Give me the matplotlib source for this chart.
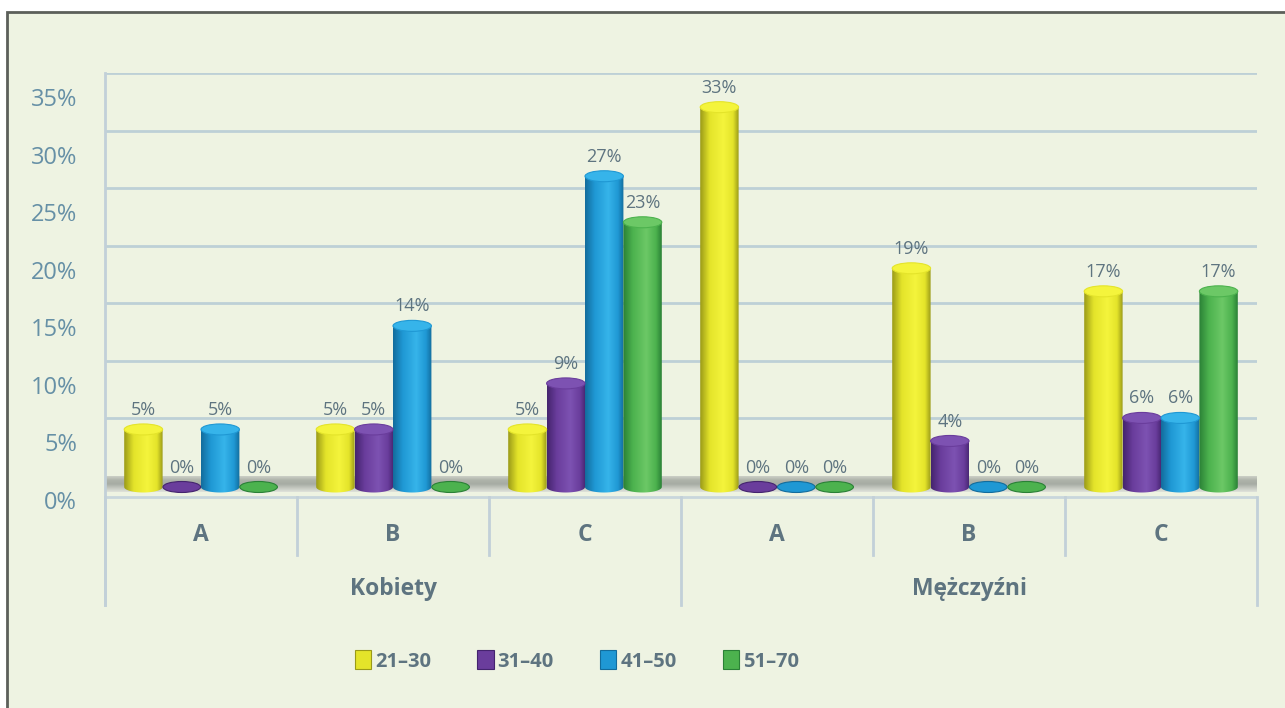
import numpy as np
import matplotlib
matplotlib.use("Agg")
import matplotlib.pyplot as plt
from matplotlib.patches import Ellipse, Rectangle, Patch
from matplotlib.path import Path
from matplotlib.patches import PathPatch
from matplotlib.colors import LinearSegmentedColormap
from matplotlib.transforms import ScaledTranslation

plt.rcParams['font.family'] = ['Open Sans', 'DejaVu Sans']

# data
groups = ["Kobiety", "Mężczyźni"]
categories = ["A", "B", "C", "A", "B", "C"]
age_groups = ["21–30", "31–40", "41–50", "51–70"]
share_21_30 = [5, 5, 5, 33, 19, 17]
share_31_40 = [0, 5, 9, 0, 4, 6]
share_41_50 = [5, 14, 27, 0, 0, 6]
share_51_70 = [0, 0, 23, 0, 0, 17]
series = [share_21_30, share_31_40, share_41_50, share_51_70]

# dark, base, light shades for the cylinders
shades = [
    ("#9a9a18", "#e4e42a", "#f4f43c"),
    ("#44246e", "#6a3d9c", "#7d52b2"),
    ("#136c9c", "#1f98d4", "#36b4ea"),
    ("#2a8036", "#4cb24e", "#6cc866"),
]

BG = "#eef3e2"
GRID = "#bdd0d6"
TXT = "#5e7480"
TICK_TXT = "#6690a6"

W, H, DPI = 1285, 708, 100
fig = plt.figure(figsize=(W / DPI, H / DPI), dpi=DPI, facecolor="white")

# framed panel
fig.patches.append(Rectangle((7 / W, -0.01), 1.0, 1 - 12 / H + 0.01,
                             transform=fig.transFigure, facecolor=BG,
                             edgecolor="#5c5f5a", linewidth=2, zorder=-5))

ax = fig.add_axes([105 / W, 1 - 605 / H, (1257 - 105) / W, (605 - 73) / H])
ax.set_facecolor("none")
PX = 11.51                     # pixels per percent
depth = 11 / PX                # 3d depth offset of the back wall
ymin, ymax = -(605 - 487) / PX, (487 - 73) / PX
ax.set_xlim(0, 6)
ax.set_ylim(ymin, ymax)

# gridlines on the back wall
ticks = np.arange(0, 40, 5)
for t in ticks[1:]:
    ax.plot([0, 6], [t + depth] * 2, color=GRID, lw=2, zorder=1,
            solid_capstyle="butt")

# floor slab
floor_cmap = LinearSegmentedColormap.from_list(
    "floor", ["#ccd0c6", "#aeb3aa", "#a6aba3", "#c4c8c0", "#dfe2da"])
ax.imshow(np.linspace(0, 1, 64).reshape(-1, 1), cmap=floor_cmap,
          extent=(0, 6, -5 / PX, depth), aspect="auto", zorder=2,
          interpolation="bilinear", origin="upper")
ax.plot([0, 6], [-10 / PX] * 2, color="#c8d6dc", lw=2, zorder=2)

# category separators
for i in range(7):
    bottom = ymin if i % 3 == 0 else -(555 - 487) / PX
    ax.plot([i, i], [-10 / PX, bottom], color="#c2d0d8", lw=2, zorder=2,
            clip_on=False)

bw = 0.2
eh = 11 / PX
grad = np.linspace(0, 1, 128).reshape(1, -1)
for s, vals in enumerate(series):
    dark, base, light = shades[s]
    cmap = LinearSegmentedColormap.from_list(
        f"cyl{s}", [(0, dark), (0.25, base), (0.6, light), (0.85, base), (1, dark)])
    for i, v in enumerate(vals):
        c = i + 0.2 + s * bw
        if v == 0:
            ax.add_patch(Ellipse((c, 0), bw * 0.98, eh, facecolor=base,
                                 edgecolor=dark, lw=0.8, zorder=4))
        else:
            x0, x1 = c - bw / 2, c + bw / 2
            th = np.linspace(np.pi, 2 * np.pi, 40)
            arc = np.column_stack([c + bw / 2 * np.cos(th), eh / 2 * np.sin(th)])
            verts = np.vstack([[[x0, v], [x0, 0]], arc, [[x1, v], [x0, v]]])
            body = PathPatch(Path(verts), facecolor="none", edgecolor="none")
            ax.add_patch(body)
            im = ax.imshow(grad, cmap=cmap, extent=(x0, x1, -eh, v),
                           aspect="auto", zorder=4, interpolation="bilinear")
            im.set_clip_path(body)
            ax.add_patch(Ellipse((c, v), bw, eh, facecolor=light,
                                 edgecolor=base, lw=0.8, zorder=5))
        ax.annotate(f"{v}%", (c, v), xytext=(0, 14), textcoords="offset points",
                    ha="center", va="center", fontsize=13, color=TXT, zorder=6)

ax.set_xlim(0, 6)
ax.set_ylim(ymin, ymax)

# value axis
ax.set_yticks(ticks)
ax.set_yticklabels([f"{t}%" for t in ticks], fontsize=17, color=TICK_TXT)
ax.tick_params(axis="y", length=0, pad=20)
for lab in ax.get_yticklabels():
    lab.set_transform(lab.get_transform() +
                      ScaledTranslation(0, -13 / DPI, fig.dpi_scale_trans))
ax.set_xticks([])
for side in ["top", "right", "bottom"]:
    ax.spines[side].set_visible(False)
ax.spines["left"].set_color("#c2d0d8")
ax.spines["left"].set_linewidth(2)

# category and group labels
for i, cat in enumerate(categories):
    ax.text(i + 0.5, -(535 - 487) / PX, cat, ha="center", va="center",
            fontsize=16.5, fontweight="bold", color=TXT)
for g, name in enumerate(groups):
    ax.text(1.5 + 3 * g, -(589 - 487) / PX, name, ha="center", va="center",
            fontsize=16.5, fontweight="bold", color=TXT)

handles = [Patch(facecolor=shades[s][1], edgecolor=shades[s][0], lw=0.8)
           for s in range(4)]
fig.legend(handles, age_groups, loc="center", bbox_to_anchor=(0.449, 1 - 661 / H),
           ncol=4, frameon=False, handlelength=0.8,
           handleheight=1.05, handletextpad=0.2, columnspacing=2.3,
           prop={"weight": "bold", "size": 14.5},
           labelcolor=TXT)

fig.savefig("out.png", dpi=DPI, facecolor=fig.get_facecolor())
